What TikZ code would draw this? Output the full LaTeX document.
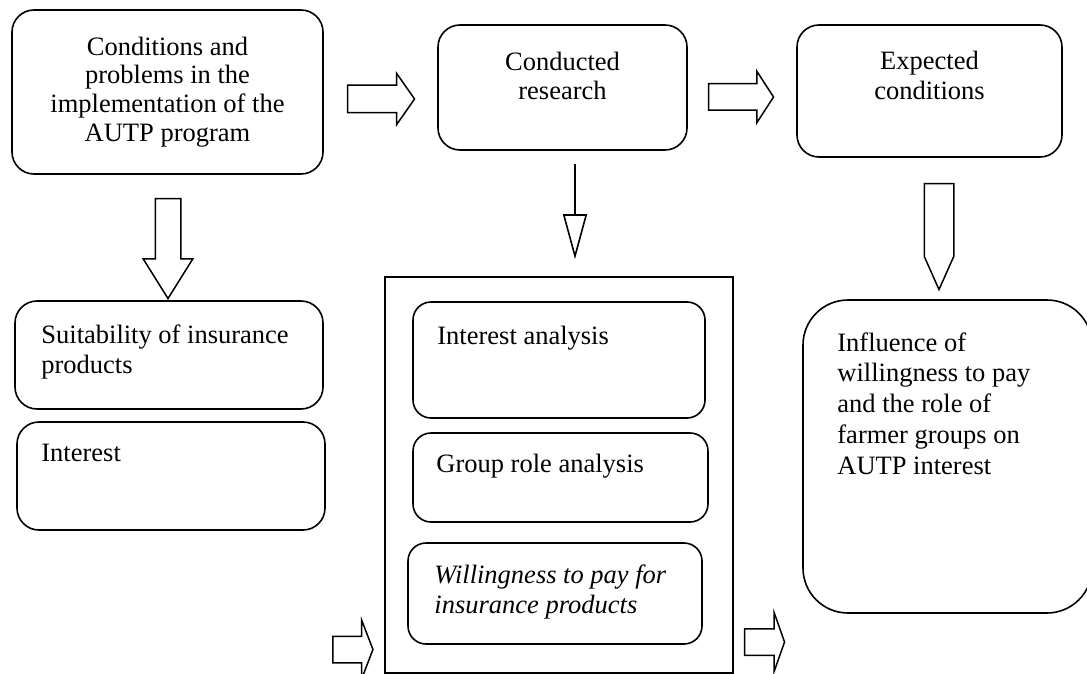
\documentclass[tikz,border=0pt]{standalone}
\usepackage{fontspec}
\setmainfont{Liberation Serif}
\usetikzlibrary{positioning,shapes.arrows,arrows.meta}

\begin{document}
\begin{tikzpicture}[x=1pt,y=-1pt,
    every node/.style={font=\fontsize{26.5}{30}\selectfont},
    box/.style={draw,line width=1.6pt,rounded corners=22pt},
    inbox/.style={draw,line width=1.6pt,rounded corners=18pt},
    txt/.style={inner sep=0pt,align=left},
    fat/.style={draw,single arrow,line width=1.5pt,inner xsep=0pt,text height=0pt,text depth=0pt,
                anchor=tail,single arrow head indent=0pt}]
  \useasboundingbox (0,0) rectangle (1087,674);

  \node[box,minimum width=311pt,minimum height=164pt,align=center,name=cond,
        font=\fontsize{26.5}{28.8}\selectfont] at (167.5,92)
     {Conditions and\\problems in the\\implementation of the\\AUTP program};
  \node[box,minimum width=249pt,minimum height=125pt,name=res] at (562.5,87.5) {};
  \node[box,minimum width=265pt,minimum height=132pt,name=expc] at (929.5,91) {};
  \node[box,minimum width=308pt,minimum height=108pt,name=suit] at (169,355) {};
  \node[box,minimum width=308pt,minimum height=108pt,name=intr] at (171,476) {};
  \node[draw,line width=1.6pt,minimum width=348pt,minimum height=396pt,name=grp] at (559,475) {};
  \node[inbox,minimum width=292pt,minimum height=116pt,name=ia] at (559,360) {};
  \node[inbox,minimum width=295pt,minimum height=89pt,name=gra] at (560.5,477.5) {};
  \node[inbox,minimum width=294pt,minimum height=101pt,name=wtp] at (555,593.5) {};
  \node[draw,line width=1.6pt,rounded corners=45pt,minimum width=289pt,minimum height=313pt,name=infl] at (947.5,456.5) {};

  \node[txt,align=center,below=28pt of res.north,name=resT,
        font=\fontsize{26.5}{29}\selectfont] {Conducted\\research};
  \node[txt,align=center,below=27pt of expc.north,name=expcT,
        font=\fontsize{26.5}{29.5}\selectfont] {Expected\\conditions};
  \node[txt,below right=24pt and 27pt of suit.north west,name=suitT] {Suitability of insurance\\products};
  \node[txt,below right=23pt and 25pt of intr.north west,name=intrT] {Interest};
  \node[txt,below right=25pt and 25pt of ia.north west,name=iaT] {Interest analysis};
  \node[txt,below right=22pt and 24pt of gra.north west,name=graT] {Group role analysis};
  \node[txt,below right=22pt and 27pt of wtp.north west,name=wtpT,
        font=\fontsize{26.5}{30}\selectfont\itshape] {Willingness to pay for\\insurance products};
  \node[txt,below right=33pt and 35pt of infl.north west,name=inflT,
        font=\fontsize{26.5}{30.8}\selectfont]
     {Influence of\\willingness to pay\\and the role of\\farmer groups on\\AUTP interest};

  \node[fat,minimum height=67pt,inner ysep=13pt,single arrow head extend=12pt,
        single arrow tip angle=110,name=a1] at ([shift={(23,7)}]cond.east) {};
  \node[fat,minimum height=65pt,inner ysep=12.5pt,single arrow head extend=12.5pt,
        single arrow tip angle=114,name=a2] at ([shift={(20,9.5)}]res.east) {};
  \node[fat,rotate=-90,minimum height=100pt,inner ysep=12pt,single arrow head extend=12pt,
        single arrow tip angle=64,name=a3] at ([shift={(0.5,23)}]cond.south) {};
  \node[fat,rotate=-90,minimum height=106pt,inner ysep=14pt,single arrow head extend=0pt,
        single arrow tip angle=48,name=a4] at ([shift={(9.5,25)}]expc.south) {};
  \node[fat,minimum height=40pt,inner ysep=12.5pt,single arrow head extend=16.5pt,
        single arrow tip angle=138,name=a5] at ([shift={(-52,174.5)}]grp.west) {};
  \node[fat,minimum height=40pt,inner ysep=12.5pt,single arrow head extend=16pt,
        single arrow tip angle=141,name=a6] at ([shift={(10,167)}]grp.east) {};

  \draw[line width=1.6pt,-{Triangle[open,length=45pt,width=24pt]}]
     ([shift={(12.5,13)}]res.south) -- ([shift={(16,-17)}]grp.north);
\end{tikzpicture}
\end{document}
